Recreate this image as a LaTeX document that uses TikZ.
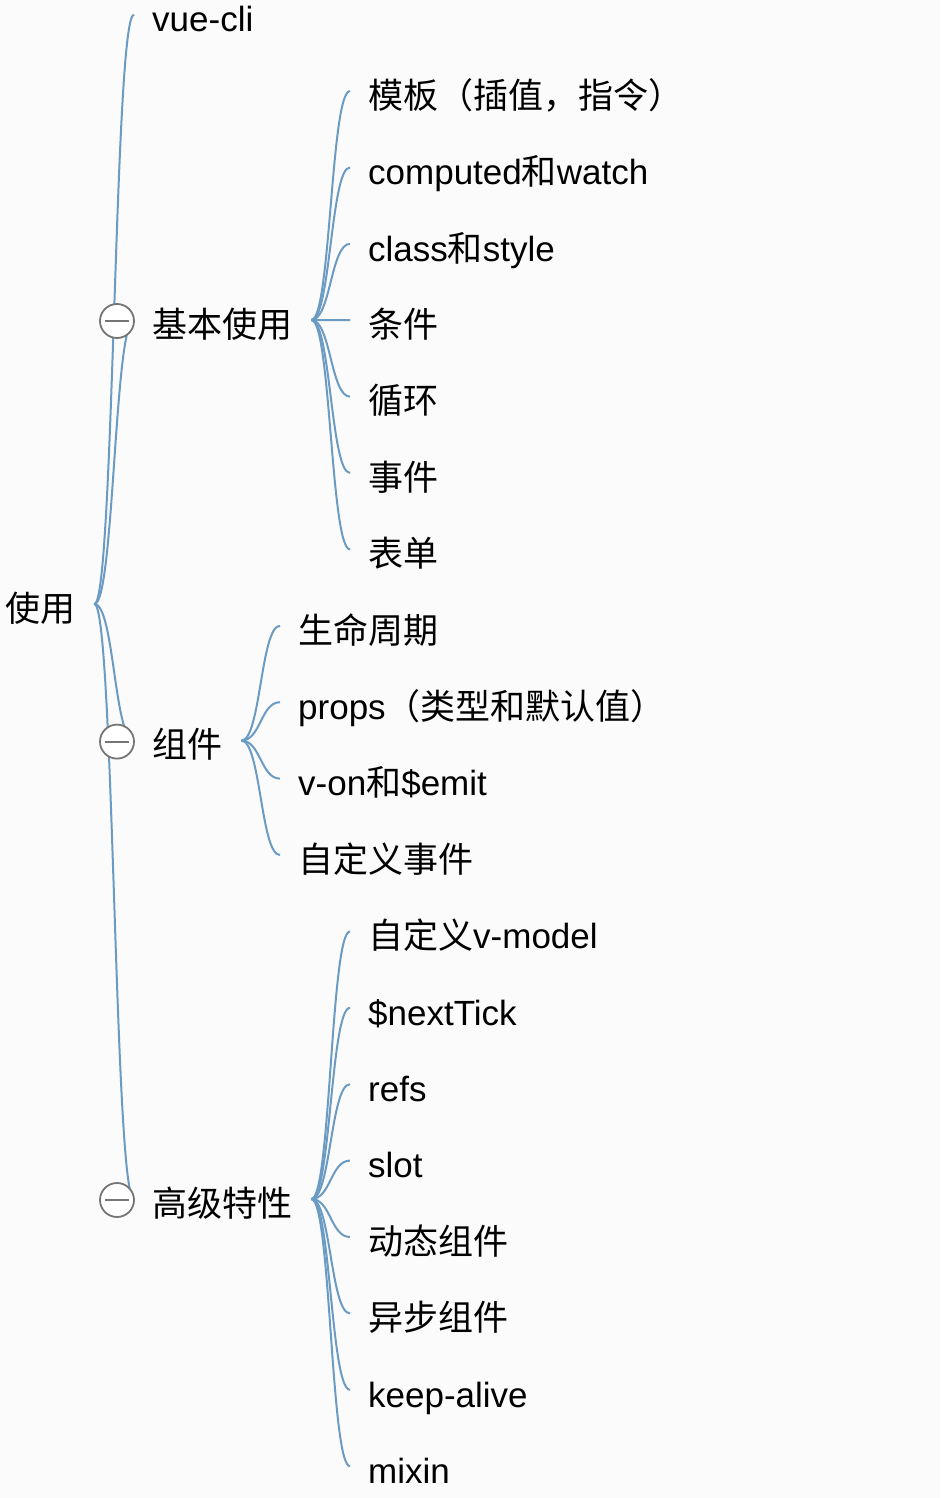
\documentclass[tikz,border=0pt]{standalone}
\usepackage{fontspec}
\setmainfont{Liberation Sans}
\newfontfamily\cjk{Noto Sans CJK SC}
\usetikzlibrary{calc}
\definecolor{lineBlue}{HTML}{6B9BC3}
\definecolor{paperGray}{HTML}{FBFBFB}
\definecolor{toggleGray}{HTML}{757575}
% S-shaped connector from the right side of #1 to the left side of #2
\newcommand\branchCurve[2]{%
  \draw[lineDecorate] let \p1=($(#1.east)+(19,-4)$), \p2=($(#2.west)+(-18,-4)$) in
    (\p1) .. controls ({(\x1+\x2)/2},\y1) and ({(\x1+\x2)/2},\y2) .. (\p2);}
\begin{document}
\begin{tikzpicture}
[lineDecorate/.style={-,draw=lineBlue,line width=2pt},%
  nodeDecorate/.style={anchor=west,inner sep=0pt,text height=28pt,text depth=1.5pt,
    text=black,font=\fontsize{35}{42}\selectfont},%
  toggleDecorate/.style={shape=circle,draw=toggleGray,fill=white,line width=1.8pt,
    minimum size=34pt,inner sep=0pt},%
  x=1pt,y=-1pt]
\fill[paperGray] (0,0) rectangle (940,1498);
\useasboundingbox (0,0) rectangle (940,1498);
%% nodes
\node (root) at (5,608) [nodeDecorate] {\cjk 使用};
\foreach \nodename/\x/\y/\nodetext in {
  cli/152/18.6/vue-cli, basic/152/324/{\cjk 基本使用},
  comp/152/744.6/{\cjk 组件}, adv/152/1203/{\cjk 高级特性},
  b1/368/95/{\cjk 模板（插值，指令）}, b2/368/171.4/computed{\cjk 和}watch,
  b3/368/247.8/class{\cjk 和}style, b4/368/324.2/{\cjk 条件},
  b5/368/400.6/{\cjk 循环}, b6/368/477/{\cjk 事件}, b7/368/553.4/{\cjk 表单},
  c1/298/629.8/{\cjk 生命周期}, c2/298/706.2/props{\cjk （类型和默认值）},
  c3/298/782.6/v-on{\cjk 和}\$emit, c4/298/859/{\cjk 自定义事件},
  a1/368/935.4/{\cjk 自定义}v-model, a2/368/1011.8/\$nextTick,
  a3/368/1088.2/refs, a4/368/1164.6/slot, a5/368/1241/{\cjk 动态组件},
  a6/368/1317.4/{\cjk 异步组件}, a7/368/1393.8/keep-alive, a8/368/1470.2/mixin}
{
  \node (\nodename) at (\x,\y) [nodeDecorate] {\nodetext};
}
%% connectors
\foreach \startnode/\endnode in {
  root/cli, root/basic, root/comp, root/adv,
  basic/b1, basic/b2, basic/b3, basic/b4, basic/b5, basic/b6, basic/b7,
  comp/c1, comp/c2, comp/c3, comp/c4,
  adv/a1, adv/a2, adv/a3, adv/a4, adv/a5, adv/a6, adv/a7, adv/a8}
{
  \branchCurve{\startnode}{\endnode}
}
%% collapse toggles
\foreach \nodename in {basic, comp, adv}
{
  \node (\nodename T) at ($(\nodename.west)+(-35,-3)$) [toggleDecorate] {};
  \draw[toggleGray,line width=1.8pt] ($(\nodename T.center)+(-12,0)$) -- ($(\nodename T.center)+(12,0)$);
}
\end{tikzpicture}
\end{document}
